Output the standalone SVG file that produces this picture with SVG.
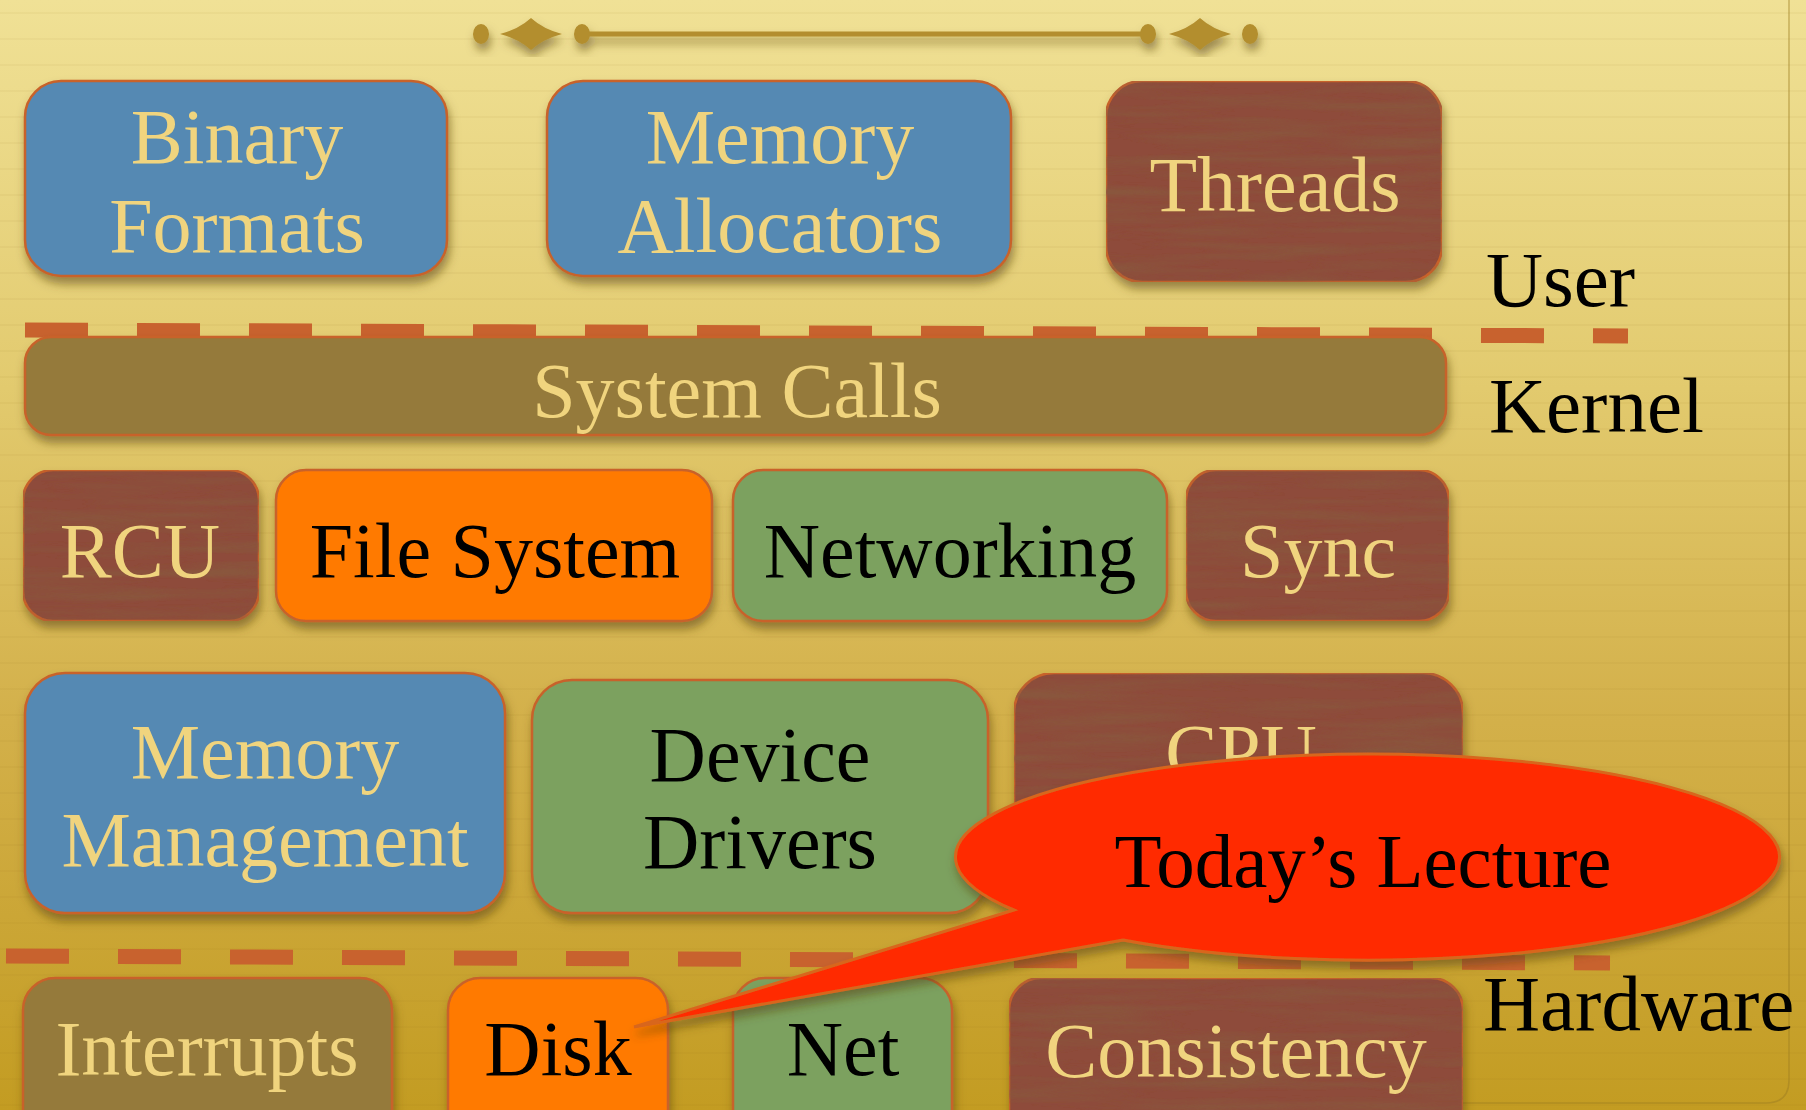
<svg xmlns="http://www.w3.org/2000/svg" width="1806" height="1110" viewBox="0 0 1806 1110">
<defs>
<linearGradient id="bg" x1="0" y1="0" x2="0" y2="1">
<stop offset="0" stop-color="#F0E196"/>
<stop offset="0.35" stop-color="#E2CA6E"/>
<stop offset="0.65" stop-color="#D3B04A"/>
<stop offset="1" stop-color="#C39C22"/>
</linearGradient>
<pattern id="lines" width="40" height="26" patternUnits="userSpaceOnUse">
<rect y="12" width="40" height="2" fill="#8a6a10" opacity="0.05"/>
</pattern>
<filter id="shadow" x="-10%" y="-10%" width="125%" height="130%">
<feDropShadow dx="2" dy="7" stdDeviation="5" flood-color="#5a4408" flood-opacity="0.55"/>
</filter>
<filter id="wood" x="0" y="0" width="100%" height="100%">
<feTurbulence type="fractalNoise" baseFrequency="0.006 0.09" numOctaves="3" seed="4" result="n"/>
<feColorMatrix in="n" type="matrix" values="0 0 0 0 0.25  0 0 0 0 0.1  0 0 0 0 0.05  0 0 0 -1.6 1.0" result="dark"/>
<feComposite in="dark" in2="SourceGraphic" operator="in" result="tex"/>
<feMerge><feMergeNode in="SourceGraphic"/><feMergeNode in="tex"/></feMerge>
</filter>
<style>
.box{stroke:#C8622A;stroke-width:2.5}
.blue{fill:#5489B3}
.brown{fill:#8E4C3B}
.olive{fill:#957A3A}
.orange{fill:#FF7A00}
.green{fill:#7BA15F}
.t{font-family:"Liberation Serif","Times New Roman",serif;font-size:78px;text-anchor:middle}
.y{fill:#F0D47E}
.k{fill:#000}
.lbl{font-family:"Liberation Serif","Times New Roman",serif;font-size:79px;fill:#000}
.sep{stroke:#C8622E;stroke-width:15;stroke-dasharray:63 49;fill:none}
.orn{fill:#B38E2E}
</style>
</defs>

<rect width="1806" height="1110" fill="url(#bg)"/>
<rect width="1806" height="1110" fill="url(#lines)"/>
<path d="M1789 0 V1080 Q1789 1103 1766 1103 H1270" fill="none" stroke="#9E7E22" stroke-width="1.5" opacity="0.5"/>

<g id="ornament" filter="url(#shadow)">
<ellipse class="orn" cx="481" cy="34" rx="8" ry="10"/>
<path class="orn" d="M500 34 Q519 29 531 18 Q543 29 562 34 Q543 39 531 50 Q519 39 500 34 Z"/>
<ellipse class="orn" cx="582" cy="34" rx="8" ry="10"/>
<rect class="orn" x="582" y="31.5" width="566" height="5"/>
<ellipse class="orn" cx="1148" cy="34" rx="8" ry="10"/>
<path class="orn" d="M1169 34 Q1188 29 1200 18 Q1212 29 1231 34 Q1212 39 1200 50 Q1188 39 1169 34 Z"/>
<ellipse class="orn" cx="1250" cy="34" rx="8" ry="10"/>
</g>

<g id="separators">
<line class="sep" x1="25" y1="330" x2="1628" y2="336"/>
<line class="sep" x1="6" y1="956" x2="1610" y2="963"/>
</g>

<g id="layer-labels">
<text class="lbl" x="1486" y="306">User</text>
<text class="lbl" x="1489" y="432">Kernel</text>
<text class="lbl" x="1483" y="1030">Hardware</text>
</g>

<g id="binary-formats" filter="url(#shadow)">
<rect class="box blue" x="25" y="81" width="422" height="195" rx="36"/>
<text class="t y" x="237" y="163">Binary</text>
<text class="t y" x="237" y="252">Formats</text>
</g>
<g id="memory-allocators" filter="url(#shadow)">
<rect class="box blue" x="547" y="81" width="464" height="195" rx="36"/>
<text class="t y" x="780" y="163">Memory</text>
<text class="t y" x="780" y="252">Allocators</text>
</g>
<g id="threads" filter="url(#shadow)">
<rect class="box brown" x="1106" y="81" width="336" height="201" rx="36" filter="url(#wood)"/>
<text class="t y" x="1275" y="211">Threads</text>
</g>

<g id="system-calls" filter="url(#shadow)">
<rect class="box olive" x="25" y="337" width="1421" height="98" rx="26"/>
<text class="t y" x="737" y="417">System Calls</text>
</g>

<g id="rcu" filter="url(#shadow)">
<rect class="box brown" x="23" y="470" width="236" height="151" rx="30" filter="url(#wood)"/>
<text class="t y" x="140" y="577">RCU</text>
</g>
<g id="file-system" filter="url(#shadow)">
<rect class="box orange" x="276" y="470" width="436" height="151" rx="30"/>
<text class="t k" x="495" y="577">File System</text>
</g>
<g id="networking" filter="url(#shadow)">
<rect class="box green" x="733" y="470" width="434" height="151" rx="30"/>
<text class="t k" x="950" y="577">Networking</text>
</g>
<g id="sync" filter="url(#shadow)">
<rect class="box brown" x="1186" y="470" width="263" height="151" rx="30" filter="url(#wood)"/>
<text class="t y" x="1318" y="577">Sync</text>
</g>

<g id="memory-management" filter="url(#shadow)">
<rect class="box blue" x="25" y="673" width="480" height="240" rx="40"/>
<text class="t y" x="265" y="778">Memory</text>
<text class="t y" x="265" y="866">Management</text>
</g>
<g id="device-drivers" filter="url(#shadow)">
<rect class="box green" x="532" y="680" width="456" height="233" rx="40"/>
<text class="t k" x="760" y="781">Device</text>
<text class="t k" x="760" y="868">Drivers</text>
</g>
<g id="cpu" filter="url(#shadow)">
<rect class="box brown" x="1014" y="673" width="449" height="240" rx="40" filter="url(#wood)"/>
<text class="t y" x="1241" y="778">CPU</text>
</g>

<g id="interrupts" filter="url(#shadow)">
<rect class="box olive" x="23" y="978" width="369" height="170" rx="32"/>
<text class="t y" x="207" y="1075">Interrupts</text>
</g>
<g id="disk" filter="url(#shadow)">
<rect class="box orange" x="448" y="978" width="220" height="170" rx="32"/>
<text class="t k" x="558" y="1075">Disk</text>
</g>
<g id="net" filter="url(#shadow)">
<rect class="box green" x="733" y="978" width="219" height="170" rx="32"/>
<text class="t k" x="843" y="1075">Net</text>
</g>
<g id="consistency" filter="url(#shadow)">
<rect class="box brown" x="1009" y="978" width="454" height="170" rx="32" filter="url(#wood)"/>
<text class="t y" x="1236" y="1077">Consistency</text>
</g>

<g id="todays-lecture" filter="url(#shadow)">
<path d="M1014 910 L634 1027 L1123 940 A412 103 0 1 0 1014 910 Z" fill="#FF2A00" stroke="#D8661E" stroke-width="3"/>
<text class="t k" x="1363" y="887" style="font-size:77px">Today’s Lecture</text>
</g>
</svg>
